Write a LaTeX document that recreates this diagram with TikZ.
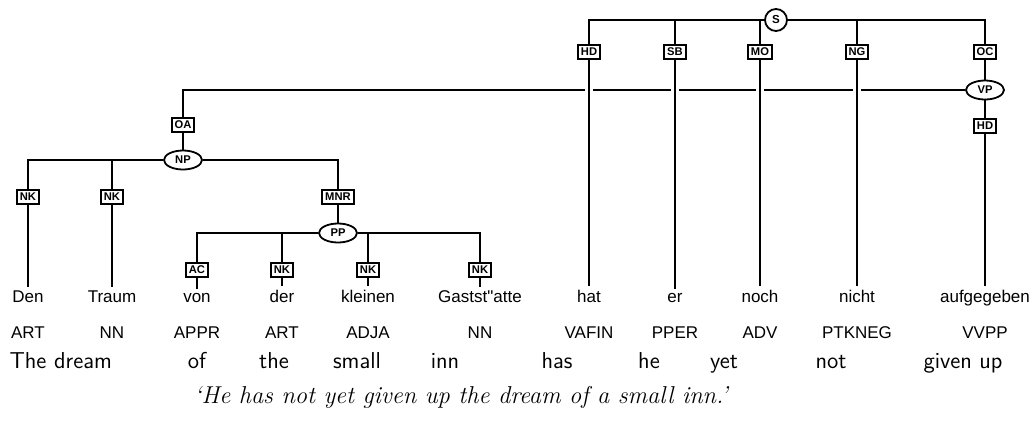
\documentclass[tikz,border=0pt]{standalone}
\usepackage{fontspec}
\newfontfamily\helv{Liberation Sans}
\usetikzlibrary{shapes.geometric}
\tikzset{
    edgelbl/.style={rectangle, draw, line width=1pt, fill=white, inner xsep=1.4pt,
                    inner ysep=0pt, minimum height=7pt,
                    font=\helv\bfseries\fontsize{5.6}{5.6}\selectfont},
    catnode/.style={ellipse, draw, line width=0.9pt, fill=white, minimum width=19pt,
                    minimum height=9.5pt, inner sep=0pt,
                    font=\helv\bfseries\fontsize{5.6}{5.6}\selectfont},
    snode/.style={circle, draw, line width=0.9pt, fill=white, minimum size=11pt,
                  inner sep=0pt, font=\helv\bfseries\fontsize{5.8}{5.8}\selectfont},
    word/.style={anchor=base, inner sep=1.5pt, font=\helv\fontsize{8.5}{10}\selectfont},
    tagnode/.style={anchor=base, inner sep=1pt, font=\helv\fontsize{8.5}{10}\selectfont},
    gloss/.style={anchor=base, inner sep=1pt, font=\sffamily\fontsize{11.5}{13}\selectfont},
    transl/.style={anchor=base, inner sep=1pt, font=\itshape\fontsize{12.2}{14}\selectfont},
    branch/.style={line width=1pt},
    crossing/.style={branch, preaction={draw=white, line width=4pt}},
}

\begin{document}
\begin{tikzpicture}[x=0.5pt, y=-0.5pt]
    \useasboundingbox (0,0) rectangle (1035,435);

    % Phrase nodes
    \node[snode]   (S)  at (776,20)  {S};
    \node[catnode] (VP) at (985,90)  {VP};
    \node[catnode] (NP) at (183,160) {NP};
    \node[catnode] (PP) at (338,233) {PP};

    % Edge labels below S
    \foreach \x/\l in {589/HD, 675/SB, 760/MO, 857/NG, 985/OC}
        \node[edgelbl] (s\l) at (\x,52) {\l};

    % Edge labels of VP
    \node[edgelbl] (vOA) at (183,125) {OA};
    \node[edgelbl] (vHD) at (985,126) {HD};

    % Edge labels of NP
    \node[edgelbl] (nNK1) at (28,197)  {NK};
    \node[edgelbl] (nNK2) at (112,197) {NK};
    \node[edgelbl] (nMNR) at (338,197) {MNR};

    % Edge labels of PP
    \node[edgelbl] (pAC)  at (197,270) {AC};
    \node[edgelbl] (pNK1) at (282,270) {NK};
    \node[edgelbl] (pNK2) at (368,270) {NK};
    \node[edgelbl] (pNK3) at (480,270) {NK};

    % Words and tags
    \foreach \x/\w/\p [count=\i] in {28/Den/ART, 112/Traum/NN, 197/von/APPR,
            282/der/ART, 368/kleinen/ADJA, 480/Gastst"atte/NN, 589/hat/VAFIN,
            675/er/PPER, 760/noch/ADV, 857/nicht/PTKNEG, 985/aufgegeben/VVPP}{
        \node[word]    (w\i) at (\x,302) {\w};
        \node[tagnode] (t\i) at (\x,338) {\p};
    }

    % English glosses
    \foreach \x/\g [count=\i] in {28/The, 83/dream, 197/of, 274/the, 357/small,
            445/inn, 557/has, 649/he, 724/yet, 831/not, 963/given up}
        \node[gloss] (g\i) at (\x,368) {\g};

    \node[transl] (tr) at (461,403) {`He has not yet given up the dream of a small inn.'};

    % S
    \foreach \l in {sHD,sSB,sMO,sNG,sOC}
        \draw[branch] (\l.north) |- (S);
    \draw[branch] (sOC) -- (VP);

    % VP
    \draw[branch] (vOA.north) |- (VP);
    \draw[branch] (VP) -- (vHD);
    \draw[branch] (vHD) -- (w11);
    \draw[branch] (vOA) -- (NP);

    % NP
    \foreach \l in {nNK1,nNK2,nMNR}
        \draw[branch] (\l.north) |- (NP);
    \draw[branch] (nMNR) -- (PP);

    % PP
    \foreach \l in {pAC,pNK1,pNK2,pNK3}
        \draw[branch] (\l.north) |- (PP);

    % Terminals
    \foreach \l/\w in {nNK1/w1, nNK2/w2, pAC/w3, pNK1/w4, pNK2/w5, pNK3/w6}
        \draw[branch] (\l) -- (\w);
    \foreach \l/\w in {sHD/w7, sSB/w8, sMO/w9, sNG/w10}
        \draw[crossing] (\l) -- (\w);

\end{tikzpicture}
\end{document}
